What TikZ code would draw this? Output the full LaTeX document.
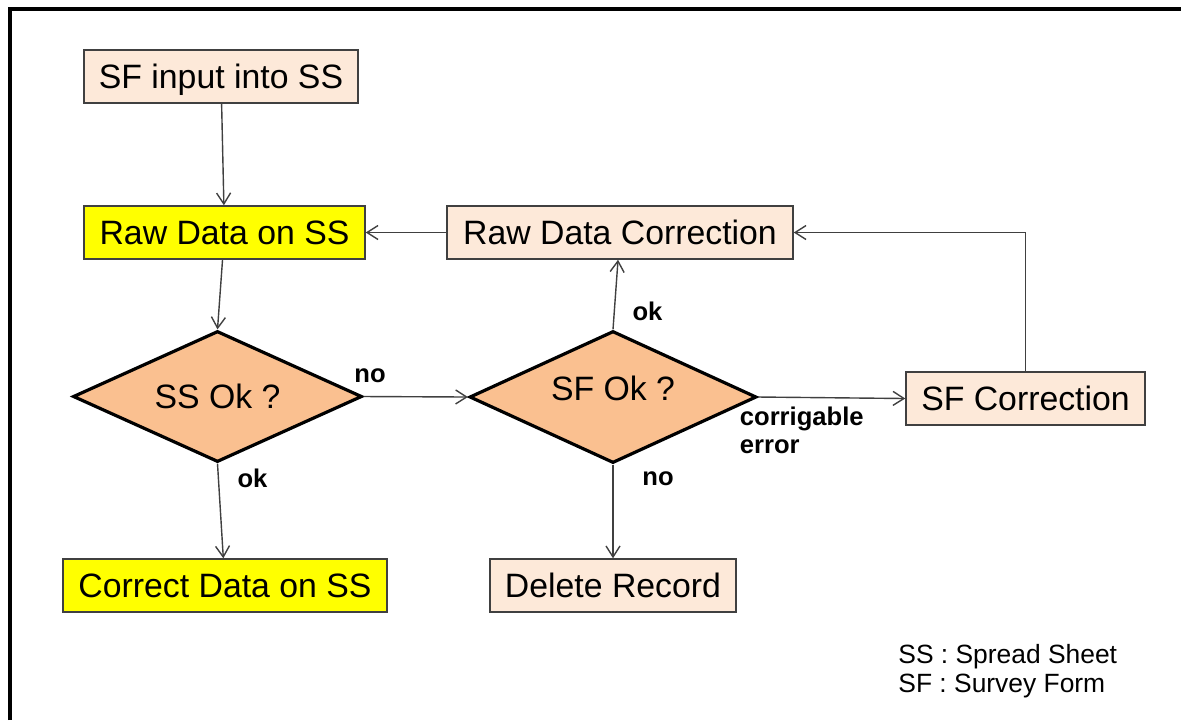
\documentclass[tikz,border=0pt]{standalone}
\usepackage{fontspec}
\setmainfont{Liberation Sans}
\usetikzlibrary{shapes.geometric,arrows.meta}
\definecolor{peach}{HTML}{FDE9D9}
\definecolor{ylw}{HTML}{FFFF00}
\definecolor{dia}{HTML}{FAC090}
\definecolor{edgecol}{HTML}{404040}
\begin{document}
\begin{tikzpicture}[x=0.5pt,y=-0.5pt,
  box/.style={draw=edgecol, line width=0.75pt, rectangle, inner sep=0pt,
    text height=12.1pt, text depth=0pt, font=\fontsize{16.9}{20}\selectfont},
  peachbox/.style={box, fill=peach},
  ybox/.style={box, fill=ylw},
  decision/.style={diamond, aspect=2.2, draw=black, line width=1.6pt, fill=dia, inner sep=0pt,
    text height=12.1pt, text depth=0pt, font=\fontsize{16.9}{20}\selectfont},
  conn/.style={draw=edgecol, line width=0.7pt, -{Straight Barb[length=5.5pt,width=7pt]}},
  lbl/.style={font=\fontsize{12.8}{13.9}\selectfont\bfseries, inner sep=0pt},
  legend/.style={font=\fontsize{13.2}{14.5}\selectfont, inner sep=0pt, anchor=base west},
]
\useasboundingbox (0,0) rectangle (1181,720);
\draw[line width=2pt] (9.7,720) -- (9.7,8.5) -- (1181,8.5);

\node[peachbox, minimum width=137pt, minimum height=26.5pt] (sfin) at (221,76.5) {SF input into SS};
\node[ybox, minimum width=140.5pt, minimum height=26.5pt] (raw) at (224.5,232.5) {Raw Data on SS};
\node[peachbox, minimum width=173pt, minimum height=26.5pt] (rdc) at (620,232.5) {Raw Data Correction};
\node[decision, minimum width=144.5pt, minimum height=65.5pt] (ssok) at (217.5,396.5) {SS Ok ?};
\node[decision, minimum width=143.5pt, minimum height=66pt] (sfok) at (613,397) {\raisebox{4.5pt}{SF Ok ?}};
\node[peachbox, minimum width=119.5pt, minimum height=26.5pt] (sfc) at (1025.5,398.5) {SF Correction};
\node[ybox, minimum width=162pt, minimum height=26.5pt] (cds) at (225,585.5) {Correct Data on SS};
\node[peachbox, minimum width=123pt, minimum height=26.5pt] (del) at (613,585.5) {Delete Record};

\draw[conn] (sfin) -- (raw);
\draw[conn] (raw) -- (ssok.north);
\draw[conn] (ssok.south) -- (cds);
\draw[conn] (ssok.east) -- (sfok.west);
\draw[conn] (sfok.north) -- (rdc);
\draw[conn] (sfok.east) -- (sfc.west);
\draw[conn] (sfok.south) -- (del);
\draw[conn] (sfc.north) |- (rdc.east);
\draw[conn] (rdc.west) -- (raw.east);

\node[lbl] (lno1) at (370,376) {no};
\node[lbl] (lok1) at (252.5,478.5) {ok};
\node[lbl] (lok2) at (647.5,311.5) {ok};
\node[lbl] (lno2) at (658,479) {no};
\node[lbl, align=left, anchor=north west] (lce) at (739.5,406.5) {corrigable\\error};

\node[legend] (leg1) at (898,663.5) {SS : Spread Sheet};
\node[legend] (leg2) at (898,692.5) {SF : Survey Form};
\end{tikzpicture}
\end{document}
